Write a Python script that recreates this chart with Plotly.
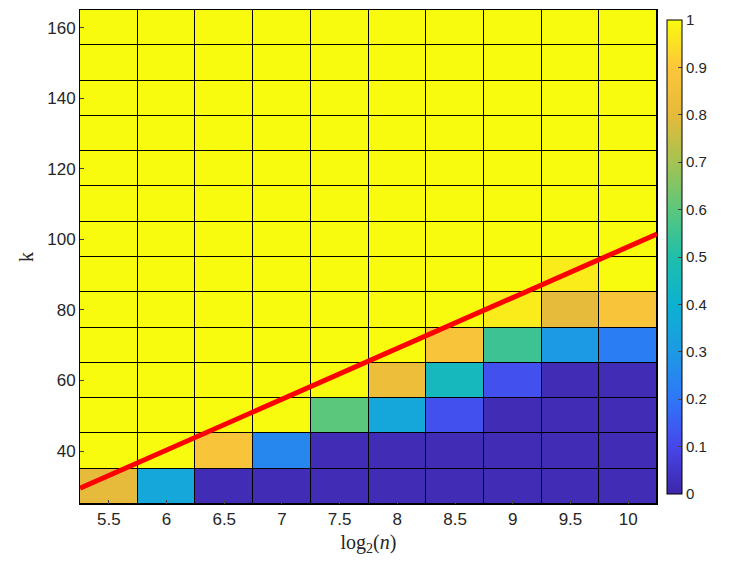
import plotly.graph_objects as go

x_vals = [5.5, 6, 6.5, 7, 7.5, 8, 8.5, 9, 9.5, 10]
k_vals = [30, 40, 50, 60, 70, 80, 90, 100, 110, 120, 130, 140, 150, 160]
# column values from k=30 upward; remaining rows are 1
col_low = {
    5.5: [0.8],
    6: [0.35],
    6.5: [0.02, 0.88],
    7: [0.02, 0.25],
    7.5: [0.02, 0.02, 0.6],
    8: [0.02, 0.02, 0.35, 0.83],
    8.5: [0.02, 0.02, 0.12, 0.45, 0.88],
    9: [0.02, 0.02, 0.02, 0.12, 0.55, 0.97],
    9.5: [0.02, 0.02, 0.02, 0.02, 0.3, 0.8, 0.97],
    10: [0.02, 0.02, 0.02, 0.02, 0.22, 0.88],
}
line_x = [5.25, 10.25]
line_k = [29.5, 101.5]

z = []
for i, k in enumerate(k_vals):
    row = []
    for x in x_vals:
        lo = col_low[x]
        row.append(lo[i] if i < len(lo) else 1.0)
    z.append(row)

parula = [
    [0.0, "#3e26a8"], [0.1, "#4746eb"], [0.2, "#2f76f8"], [0.3, "#1d9ae4"],
    [0.4, "#0cb1d0"], [0.5, "#1fbfaa"], [0.6, "#5bc77c"], [0.7, "#a5c351"],
    [0.8, "#e6ba3a"], [0.9, "#fdc63a"], [1.0, "#f9fb0e"],
]

fig = go.Figure()
fig.add_trace(go.Heatmap(
    x=x_vals, y=k_vals, z=z, zmin=0, zmax=1, colorscale=parula,
    xgap=1, ygap=1,
    colorbar=dict(thickness=15, len=1, y=0.5, yanchor="middle", x=1.017, xpad=0, ypad=10,
                  tickvals=[i / 10 for i in range(11)],
                  ticktext=["0"] + [f"{i/10:g}" for i in range(1, 10)] + ["1"],
                  ticks="inside", ticklen=4, outlinecolor="black", outlinewidth=1,
                  tickfont=dict(family="Liberation Sans", size=15, color="#262626")),
))
fig.add_trace(go.Scatter(x=line_x, y=line_k, mode="lines",
                         line=dict(color="#ff0000", width=5), showlegend=False))

fig.update_layout(
    width=723, height=573, margin=dict(l=72, r=74, t=2, b=77),
    paper_bgcolor="white", plot_bgcolor="black",
    xaxis=dict(range=[5.25, 10.25], tickvals=x_vals, ticktext=[f"{v:g}" for v in x_vals],
               showgrid=False, zeroline=False, showline=True, linecolor="black", mirror=True,
               ticks="inside", ticklen=4, automargin=False,
               tickfont=dict(family="Liberation Sans", size=17, color="#262626"),
               title=dict(text="log<sub>2</sub>(<i>n</i>)", standoff=6,
                          font=dict(family="Liberation Serif", size=20, color="#262626"))),
    yaxis=dict(range=[25, 165], tickvals=[40, 60, 80, 100, 120, 140, 160],
               showgrid=False, zeroline=False, showline=True, linecolor="black", mirror=True,
               ticks="inside", ticklen=4, automargin=False,
               tickfont=dict(family="Liberation Sans", size=17, color="#262626"),
               title=dict(text="k", standoff=8,
                          font=dict(family="Liberation Serif", size=20, color="#262626"))),
)
fig.write_html("out.html")
